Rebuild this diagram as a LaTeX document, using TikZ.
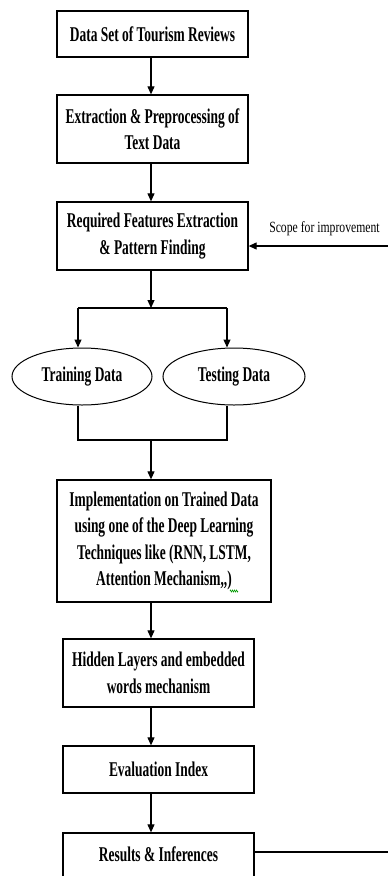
\documentclass[tikz,border=0pt]{standalone}
\usepackage{fontspec}
\setmainfont{Liberation Serif}[FakeStretch=0.64]
\newfontfamily\notefont{Liberation Serif}[FakeStretch=0.75]
\usetikzlibrary{arrows.meta,shapes.geometric,decorations.pathmorphing}
\begin{document}
\begin{tikzpicture}[x=1pt,y=-1pt,
  box/.style={draw,line width=1.3pt,inner sep=0pt,align=center,
    font=\fontsize{21}{26.5}\selectfont\bfseries},
  oval/.style={ellipse,draw,line width=1pt,inner sep=0pt,
    font=\fontsize{21}{26.5}\selectfont\bfseries},
  conn/.style={line width=1.1pt},
  arr/.style={conn,-{Triangle[length=8pt,width=7pt]}},
  note/.style={font=\notefont\fontsize{15.6}{18}\selectfont, inner sep=0pt}
]
\useasboundingbox (0,0) rectangle (388,876);
\clip (0,0) rectangle (388,876);

\node[box, minimum width=191, minimum height=46] (b1) at (152.5,34) {Data Set of Tourism Reviews};
\node[box, minimum width=191, minimum height=68] (b2) at (152.5,129) {Extraction \& Preprocessing of\\Text Data};
\node[box, minimum width=191, minimum height=68] (b3) at (152.5,236) {Required Features Extraction\\\& Pattern Finding};
\node[oval, minimum width=140, minimum height=57] (tr) at (82,376.5) {Training Data};
\node[oval, minimum width=142, minimum height=57] (te) at (234,376.5) {Testing Data};
\node[box, minimum width=214, minimum height=122] (b4) at (164,541) {Implementation on Trained Data\\using one of the Deep Learning\\Techniques like (RNN, LSTM,\\Attention Mechanism,{},)};
\node[box, minimum width=191, minimum height=68] (b5) at (158.5,673) {Hidden Layers and embedded\\words mechanism};
\node[box, minimum width=191, minimum height=47] (b6) at (158.5,769.5) {Evaluation Index};
\node[box, minimum width=191, minimum height=48] (b7) at (158.5,857) {\raisebox{5pt}{Results \& Inferences}};
\node[note] (scope) at (324.5,229) {Scope for improvement};

\coordinate (ax) at (151,0);
\coordinate (bl) at (78,308);
\coordinate (bm) at (151,308);
\coordinate (bc) at (227,308);
\coordinate (jl) at (78,440);
\coordinate (jm) at (151,440);
\coordinate (jr) at (227,440);
\coordinate (sr) at (388,246);
\coordinate (rr) at (388,852);

\draw[arr] (b1.south -| ax) -- (b2.north -| ax);
\draw[arr] (b2.south -| ax) -- (b3.north -| ax);
\draw[arr] (b3.south -| ax) -- (bm);
\draw[conn] (bl) -- (bc);
\draw[arr] (bl) -- (bl |- tr.north);
\draw[arr] (bc) -- (bc |- te.north);
\draw[conn] (jl |- tr.south) -- (jl) -- (jr) -- (jr |- te.south);
\draw[arr] (jm) -- (b4.north -| ax);
\draw[arr] (b4.south -| ax) -- (b5.north -| ax);
\draw[arr] (b5.south -| ax) -- (b6.north -| ax);
\draw[arr] (b6.south -| ax) -- (b7.north -| ax);
\draw[arr] (sr) -- (sr -| b3.east);
\draw[conn] (rr -| b7.east) -- (rr);

\draw[green!60!black, line width=0.6pt, decorate,
  decoration={zigzag,segment length=2pt,amplitude=1pt}] (230,591) -- (238,591);
\end{tikzpicture}
\end{document}
